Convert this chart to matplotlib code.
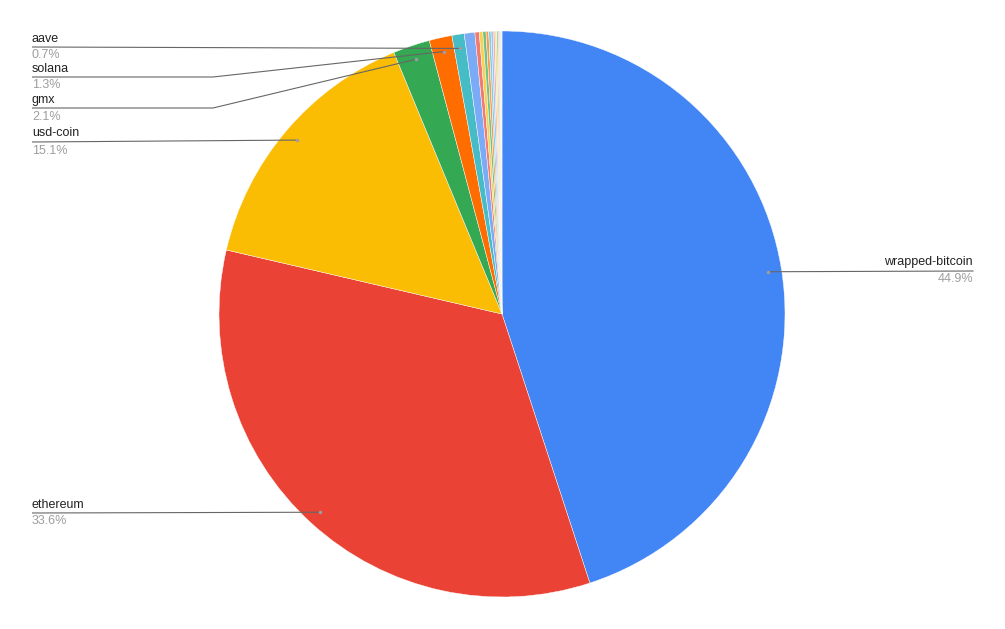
import numpy as np
import matplotlib
matplotlib.use("Agg")
import matplotlib.pyplot as plt

# ---- data ----
categories = ["wrapped-bitcoin", "ethereum", "usd-coin", "gmx", "solana", "aave",
              "token-7", "token-8", "token-9", "token-10", "token-11", "token-12",
              "token-13", "token-14", "token-15", "token-16", "token-17", "token-18",
              "token-19", "token-20"]
values = [44.9, 33.6, 15.1, 2.1, 1.3, 0.7,
          0.6, 0.25, 0.2, 0.18, 0.15, 0.13,
          0.12, 0.1, 0.1, 0.08, 0.07, 0.06, 0.05, 0.04]
pct_labels = ["44.9%", "33.6%", "15.1%", "2.1%", "1.3%", "0.7%"]
labeled = ["wrapped-bitcoin", "ethereum", "usd-coin", "gmx", "solana", "aave"]

colors = ["#4285F4", "#EA4335", "#FBBC04", "#34A853", "#FF6D01", "#46BDC6",
          "#7BAAF7", "#F07B72", "#FCD04F", "#71C287", "#FF994D", "#7ED1D7",
          "#A0C2F9", "#F6AEA9", "#FDDE83", "#9FD5AB", "#FFB880", "#A9E0E4",
          "#C6DAFC", "#F9D2CF"]

plt.rcParams['font.family'] = ['Liberation Sans', 'DejaVu Sans']

W, H = 1005, 629
fig = plt.figure(figsize=(W / 100, H / 100), dpi=100)
ax = fig.add_axes([0, 0, 1, 1])

cx, cy, R = 502, H - 314, 283
ax.pie(values, colors=colors, startangle=90, counterclock=False,
       center=(cx, cy), radius=R,
       wedgeprops=dict(edgecolor="white", linewidth=0.3))
ax.set_xlim(0, W)
ax.set_ylim(0, H)
ax.set_aspect('equal')
ax.axis('off')

total = sum(values)
cum = np.cumsum([0] + values)
mid_angles = {}
for i, name in enumerate(categories):
    a = (cum[i] + cum[i + 1]) / 2 / total * 360.0  # clockwise from top
    mid_angles[name] = a

def dot_pos(name):
    a = np.deg2rad(mid_angles[name])
    r = 0.95 * R
    return cx + r * np.sin(a), cy + r * np.cos(a)

line_col = "#666666"
name_col = "#222222"
pct_col = "#9e9e9e"
fs = 9.0

# left labels: (name, line y in pixels from top, elbow x or None)
left = [("aave", 47, None), ("solana", 77, 213), ("gmx", 108, 213),
        ("usd-coin", 142, None), ("ethereum", 513, None)]
for name, ly, elbow in left:
    y = H - ly
    dx, dy = dot_pos(name)
    if elbow is None:
        xs, ys = [32, dx], [y, dy]
    else:
        xs, ys = [32, elbow, dx], [y, y, dy]
    ax.plot(xs, ys, color=line_col, lw=0.8, solid_capstyle='butt')
    ax.plot([dx], [dy], 'o', color="#9e9e9e", ms=2.5, mec='none')
    idx = categories.index(name)
    ax.text(32, y + 2.5, name, fontsize=fs, color=name_col, ha='left', va='bottom')
    ax.text(32, y - 2.5, pct_labels[idx], fontsize=fs, color=pct_col, ha='left', va='top')

# right label
name = "wrapped-bitcoin"
dx, dy = dot_pos(name)
y = H - 271
ax.plot([dx, 973], [dy, y], color=line_col, lw=0.8)
ax.plot([dx], [dy], 'o', color="#9e9e9e", ms=2.5, mec='none')
ax.text(973, y + 2.5, name, fontsize=fs, color=name_col, ha='right', va='bottom')
ax.text(973, y - 2.5, pct_labels[0], fontsize=fs, color=pct_col, ha='right', va='top')

fig.savefig("out.png", dpi=100, facecolor="white")
